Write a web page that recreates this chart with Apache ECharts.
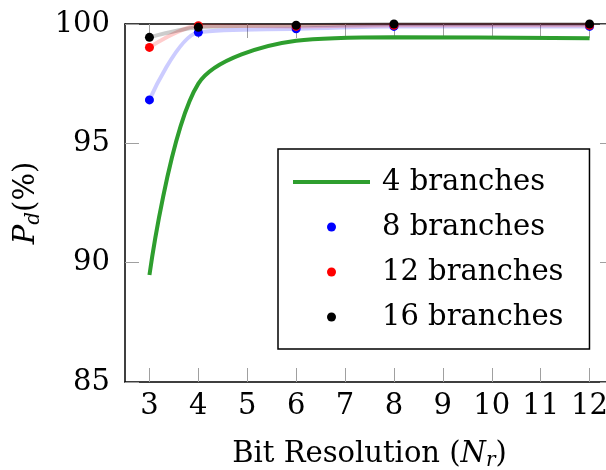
<!DOCTYPE html>
<html>
<head>
<meta charset="utf-8">
<script src="https://cdn.jsdelivr.net/npm/echarts@6/dist/echarts.min.js"></script>
<style>html,body{margin:0;padding:0;background:#fff}#c{width:606px;height:470px}</style>
</head>
<body>
<div id="c"></div>
<script>
const xTicks = [3, 4, 5, 6, 7, 8, 9, 10, 11, 12];
const xValues = [3, 4, 6, 8, 12];
const branches4 = [89.48, 97.5, 99.3, 99.45, 99.4];
const branches8 = [96.82, 99.65, 99.8, 99.9, 99.9];
const branches12 = [99.02, 99.93, 99.9, 99.95, 99.95];
const branches16 = [99.44, 99.86, 99.95, 100, 100];
const seriesNames = ['4 branches', '8 branches', '12 branches', '16 branches'];

const FONT = 'DejaVu Serif';
const pairs = ys => xValues.map((x, i) => [x, ys[i]]);

const chart = echarts.init(document.getElementById('c'), null, {renderer: 'canvas'});
const tickStyle = {show: true, inside: true, length: 14, lineStyle: {color: '#a0a0a0', width: 1}};
const axisLine = {show: true, onZero: false, lineStyle: {color: '#000', width: 1.5}};

function dotSeries(name, ys, color, lineColor) {
  return {
    name, type: 'line', data: pairs(ys), smooth: 0.3, clip: false,
    symbol: 'circle', symbolSize: 9, showSymbol: true,
    itemStyle: {color: color},
    lineStyle: {color: lineColor, width: 4},
    emphasis: {disabled: true}
  };
}

chart.setOption({
  animation: false,
  textStyle: {fontFamily: FONT},
  grid: {left: 125, right: -8, top: 24, bottom: 88, containLabel: false, outerBoundsMode: 'none'},
  xAxis: [{
    type: 'value', min: 2.5, max: 12.5, position: 'bottom',
    axisLine, splitLine: {show: false},
    axisTick: Object.assign({customValues: xTicks}, tickStyle),
    axisLabel: {customValues: xTicks, fontFamily: FONT, fontSize: 29, color: '#000', margin: 10},
    name: 'Bit Resolution ({i|N}{s|r})', nameLocation: 'middle', nameGap: 55,
    nameTextStyle: {fontFamily: FONT, fontSize: 29, color: '#000',
      rich: {i: {fontFamily: FONT, fontStyle: 'italic', fontSize: 29}, s: {fontFamily: FONT, fontStyle: 'italic', fontSize: 20, verticalAlign: 'bottom', padding: [14, 0, 0, 0]}}}
  }, {
    type: 'value', min: 2.5, max: 12.5, position: 'top',
    axisLine, splitLine: {show: false},
    axisTick: Object.assign({customValues: xTicks}, tickStyle),
    axisLabel: {show: false}
  }],
  yAxis: [{
    type: 'value', min: 85, max: 100, interval: 5, position: 'left',
    axisLine, splitLine: {show: false}, axisTick: tickStyle,
    axisLabel: {fontFamily: FONT, fontSize: 29, color: '#000', margin: 15},
    name: '{i|P}{s|d}(%)', nameLocation: 'middle', nameGap: 80, nameRotate: 90,
    nameTextStyle: {fontFamily: FONT, fontSize: 29, color: '#000',
      rich: {i: {fontFamily: FONT, fontStyle: 'italic', fontSize: 29}, s: {fontFamily: FONT, fontStyle: 'italic', fontSize: 20, padding: [14, 0, 0, 0]}}}
  }, {
    type: 'value', min: 85, max: 100, interval: 5, position: 'right',
    axisLine, splitLine: {show: false}, axisTick: tickStyle,
    axisLabel: {show: false}
  }],
  legend: {
    orient: 'vertical', left: 278, top: 149,
    padding: [18, 26, 17, 15],
    itemWidth: 77, itemHeight: 9, itemGap: 15,
    borderColor: '#000', borderWidth: 1.5, borderRadius: 0,
    backgroundColor: '#fff',
    textStyle: {fontFamily: FONT, fontSize: 29, color: '#000', lineHeight: 30, padding: [0, 0, 0, 7]},
    selectedMode: false,
    data: [
      {name: seriesNames[0], icon: 'path://M0,0L77,0L77,4L0,4Z', itemStyle: {color: '#2e9e2e'}},
      {name: seriesNames[1], icon: 'circle', itemStyle: {color: '#0000ff'}},
      {name: seriesNames[2], icon: 'circle', itemStyle: {color: '#ff0000'}},
      {name: seriesNames[3], icon: 'circle', itemStyle: {color: '#000000'}}
    ]
  },
  series: [
    {
      name: seriesNames[0], type: 'line', data: pairs(branches4), smooth: 0.3,
      showSymbol: false, symbol: 'none', clip: false,
      itemStyle: {color: '#2e9e2e'},
      lineStyle: {color: '#2e9e2e', width: 4},
      emphasis: {disabled: true}
    },
    dotSeries(seriesNames[1], branches8, '#0000ff', 'rgba(0,0,255,0.2)'),
    dotSeries(seriesNames[2], branches12, '#ff0000', 'rgba(255,0,0,0.2)'),
    dotSeries(seriesNames[3], branches16, '#000000', 'rgba(0,0,0,0.2)')
  ]
});
</script>
</body>
</html>
